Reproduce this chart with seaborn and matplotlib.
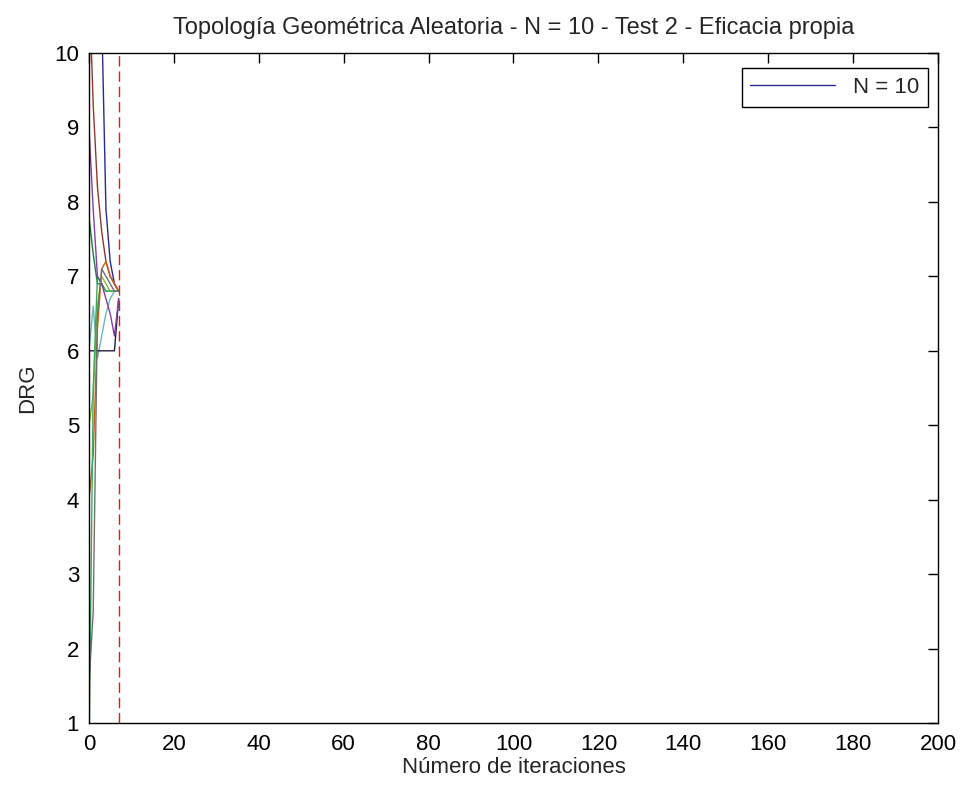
import numpy as np
import pandas as pd
import matplotlib
matplotlib.use("Agg")
import matplotlib.pyplot as plt
import seaborn as sns

iterations = [0, 1, 2, 3, 4, 5, 6, 7]
node_names = ["n1", "n2", "n3", "n4", "n5", "n6", "n7", "n8", "n9", "n10"]
drg_n1 = [14.0, 13.0, 12.0, 10.5, 7.9, 7.2, 6.9, 6.8]
drg_n2 = [11.0, 9.3, 8.2, 7.6, 7.2, 7.0, 6.9, 6.8]
drg_n3 = [7.8, 7.3, 6.9, 6.9, 6.8, 6.8, 6.8, 6.8]
drg_n4 = [6.0, 6.6, 5.9, 6.2, 6.5, 6.7, 6.8, 6.8]
drg_n5 = [4.0, 4.6, 6.3, 7.1, 7.2, 7.0, 6.9, 6.8]
drg_n6 = [6.0, 6.0, 6.0, 6.0, 6.0, 6.0, 6.0, 6.7]
drg_n7 = [5.0, 5.4, 6.6, 7.0, 6.9, 6.8, 6.8, 6.8]
drg_n8 = [0.5, 5.5, 7.0, 6.9, 6.8, 6.8, 6.8, 6.8]
drg_n9 = [9.0, 7.9, 7.0, 6.9, 6.7, 6.5, 6.2, 6.7]
drg_n10 = [1.5, 2.5, 6.5, 7.1, 7.0, 6.9, 6.8, 6.8]
line_colors = ["#2a2a8c", "#8b3a2a", "#1a7a3a", "#6ab8b8", "#c0601a",
               "#202040", "#8cb43c", "#3caa5a", "#8040a0", "#707070"]
threshold_x = 7
legend_label = "N = 10"

series = [drg_n1, drg_n2, drg_n3, drg_n4, drg_n5, drg_n6, drg_n7, drg_n8, drg_n9, drg_n10]
df = pd.DataFrame({
    "iter": np.tile(iterations, len(series)),
    "drg": np.concatenate(series),
    "node": np.repeat(node_names, len(iterations)),
})

sns.set_style("white")
plt.rcParams['font.family'] = ['Liberation Sans', 'DejaVu Sans']

fig = plt.figure(figsize=(9.66, 7.94), dpi=100)
ax = fig.add_axes([0.0921, 0.0894, 0.8789, 0.8438])

sns.lineplot(data=df, x="iter", y="drg", hue="node", palette=line_colors,
             legend=False, ax=ax, linewidth=1.0, sort=False, estimator=None)
ax.axvline(threshold_x, ymin=0, ymax=1, color="#cc2222", linestyle=(0, (7.5, 3.5)), linewidth=1.0)

ax.set_xlim(0, 200)
ax.set_ylim(1, 10)
ax.set_xticks(np.arange(0, 201, 20))
ax.set_yticks(np.arange(1, 11, 1))
ax.tick_params(direction="in", length=7, width=1, top=True, right=True,
               labelsize=16, colors="black")
ax.tick_params(axis="x", pad=8)
ax.tick_params(axis="y", pad=7)
for sp in ax.spines.values():
    sp.set_color("black")
    sp.set_linewidth(1.0)

ax.set_title("Topología Geométrica Aleatoria - N = 10 - Test 2 - Eficacia propia",
             fontsize=17, pad=14)
ax.set_xlabel("Número de iteraciones", fontsize=16, labelpad=1)
ax.set_ylabel("DRG", fontsize=16, labelpad=12)

leg = ax.legend([ax.lines[0]], [legend_label], loc="upper right", fontsize=16,
                frameon=True, fancybox=False, handlelength=3.8, borderpad=0.4,
                borderaxespad=0, bbox_to_anchor=(0.988, 0.978),
                framealpha=1, edgecolor="black")
leg.get_frame().set_linewidth(1.0)

fig.savefig("out.png", dpi=100)
